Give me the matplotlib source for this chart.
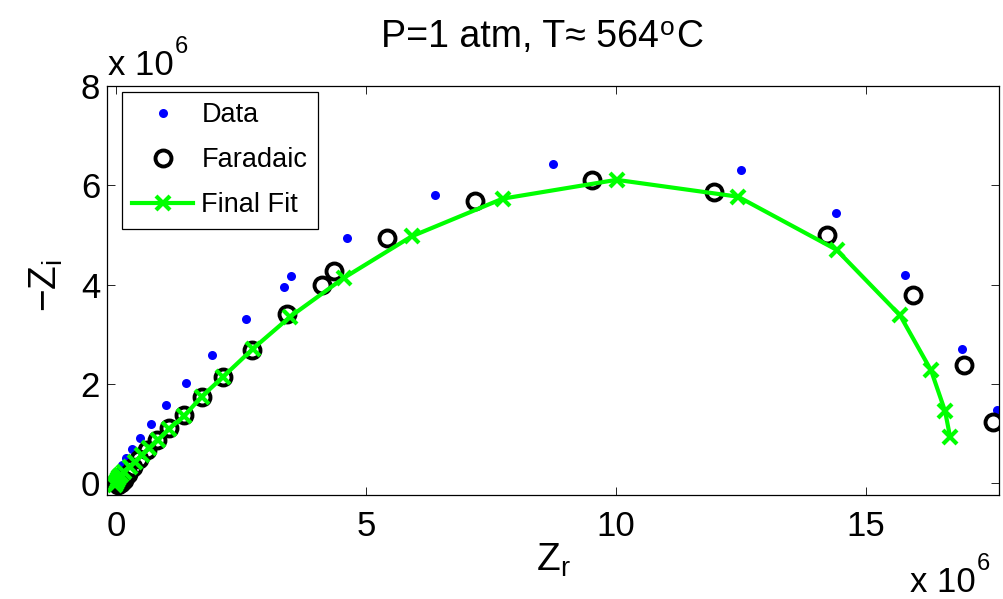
import numpy as np
import matplotlib
matplotlib.use("Agg")
import matplotlib.pyplot as plt

plt.rcParams['font.family'] = ['Liberation Sans', 'DejaVu Sans']
plt.rcParams['mathtext.fontset'] = 'custom'
plt.rcParams['mathtext.rm'] = 'Liberation Sans'
plt.rcParams['mathtext.it'] = 'Liberation Sans:italic'

# values in units of 1e6 ohm
zr_data = [17.62, 16.92, 15.78, 14.40, 12.50, 8.74, 6.38, 4.62, 3.50, 3.36, 2.60, 1.91,
           1.39, 1.00, 0.69, 0.48, 0.32, 0.20, 0.11, 0.06, 0.03, 0.01, 0.0]
zi_data = [1.47, 2.70, 4.19, 5.45, 6.30, 6.42, 5.81, 4.93, 4.17, 3.96, 3.30, 2.58,
           2.02, 1.57, 1.19, 0.91, 0.68, 0.50, 0.36, 0.25, 0.16, 0.09, 0.03]

zr_far = [17.54, 16.96, 15.94, 14.21, 11.96, 9.51, 7.18, 5.41, 4.36, 4.11, 3.41, 2.71,
          2.14, 1.71, 1.36, 1.06, 0.81, 0.61, 0.46, 0.34, 0.24, 0.16, 0.09, 0.03, 0.0]
zi_far = [1.23, 2.37, 3.78, 4.99, 5.86, 6.11, 5.68, 4.93, 4.27, 4.00, 3.41, 2.69,
          2.14, 1.73, 1.37, 1.11, 0.87, 0.66, 0.48, 0.32, 0.18, 0.07, 0.0, -0.04, 0.02]

zr_fit = [16.68, 16.58, 16.30, 15.68, 14.41, 12.44, 10.01, 7.73, 5.91, 4.55, 3.48, 2.73,
          2.14, 1.71, 1.36, 1.06, 0.84, 0.66, 0.51, 0.38, 0.27, 0.15, 0.10, 0.06, 0.03,
          0.01, 0.0, -0.02]
zi_fit = [0.93, 1.45, 2.27, 3.38, 4.70, 5.77, 6.11, 5.73, 4.97, 4.13, 3.35, 2.70,
          2.14, 1.74, 1.35, 1.09, 0.87, 0.70, 0.56, 0.43, 0.33, 0.23, 0.17, 0.12, 0.08,
          0.04, 0.01, -0.03]

x_ticks = [0, 5, 10, 15]
y_ticks = [0, 2, 4, 6, 8]

fig = plt.figure(figsize=(10.04, 5.99), dpi=100)
ax = fig.add_axes([0.1066, 0.1736, 0.8885, 0.6828])

ax.plot(zr_data, zi_data, linestyle='none', marker='o', markersize=6.5,
        color=(0, 0, 1), markeredgewidth=0, label='Data')
ax.plot(zr_far, zi_far, linestyle='none', marker='o', markersize=11.5,
        markerfacecolor='none', markeredgecolor='black', markeredgewidth=2.8,
        label='Faradaic')
ax.plot(zr_fit, zi_fit, color=(0, 1, 0), linewidth=3, marker='x', markersize=9.5,
        markeredgewidth=3, label='Final Fit')

ax.set_xlim(-0.18, 17.66)
ax.set_ylim(-0.24, 8)
ax.set_xticks(x_ticks)
ax.set_yticks(y_ticks)
ax.tick_params(direction='in', length=6, width=0.6, labelsize=25,
               top=True, right=True)
ax.tick_params(axis='x', pad=11)
ax.tick_params(axis='y', pad=5)
for sp in ax.spines.values():
    sp.set_linewidth(0.9)

ax.set_xlabel(r'$\mathregular{Z_r}$', fontsize=28)
ax.set_ylabel(r'$\mathregular{-Z_i}$', fontsize=28)
ax.xaxis.set_label_coords(0.5, -0.115)
ax.yaxis.set_label_coords(-0.047, 0.513)


def sup_text(x, y, base, sup, after='', size=25, sup_size=17, raise_pt=10):
    """Text mit hochgestelltem Teil, MATLAB-artig (Exponent hoeher als mathtext)."""
    t1 = fig.text(x, y, base, ha='left', va='bottom', fontsize=size)
    s = fig.add_artist(plt.Annotation(sup, xy=(1, 0), xycoords=t1,
                                      xytext=(0.8, raise_pt), textcoords='offset points',
                                      ha='left', va='bottom', fontsize=sup_size))
    if after:
        fig.add_artist(plt.Annotation(after, xy=(1, 0), xycoords=(s, t1),
                                      xytext=(0.8, 0), textcoords='offset points',
                                      ha='left', va='bottom', fontsize=size))
    return t1


# titel + multiplier texts
sup_text(381 / 1004, 1 - 55 / 599, 'P=1 atm, T\u2248 564', 'o', 'C', size=27,
         sup_size=19, raise_pt=10.5)
sup_text(108 / 1004, 1 - 82 / 599, 'x 10', '6', raise_pt=17)
sup_text(910 / 1004, 1 - 599 / 599, 'x 10', '6', raise_pt=17)

leg = ax.legend(loc='upper left', bbox_to_anchor=(0.0168, 0.985), borderaxespad=0,
                fontsize=19.5, numpoints=1, handlelength=2.25, handletextpad=0.3,
                labelspacing=0.7, borderpad=0.38, fancybox=False, framealpha=1,
                edgecolor='black')
leg.get_frame().set_linewidth(0.9)

fig.savefig('out.png', dpi=100)
